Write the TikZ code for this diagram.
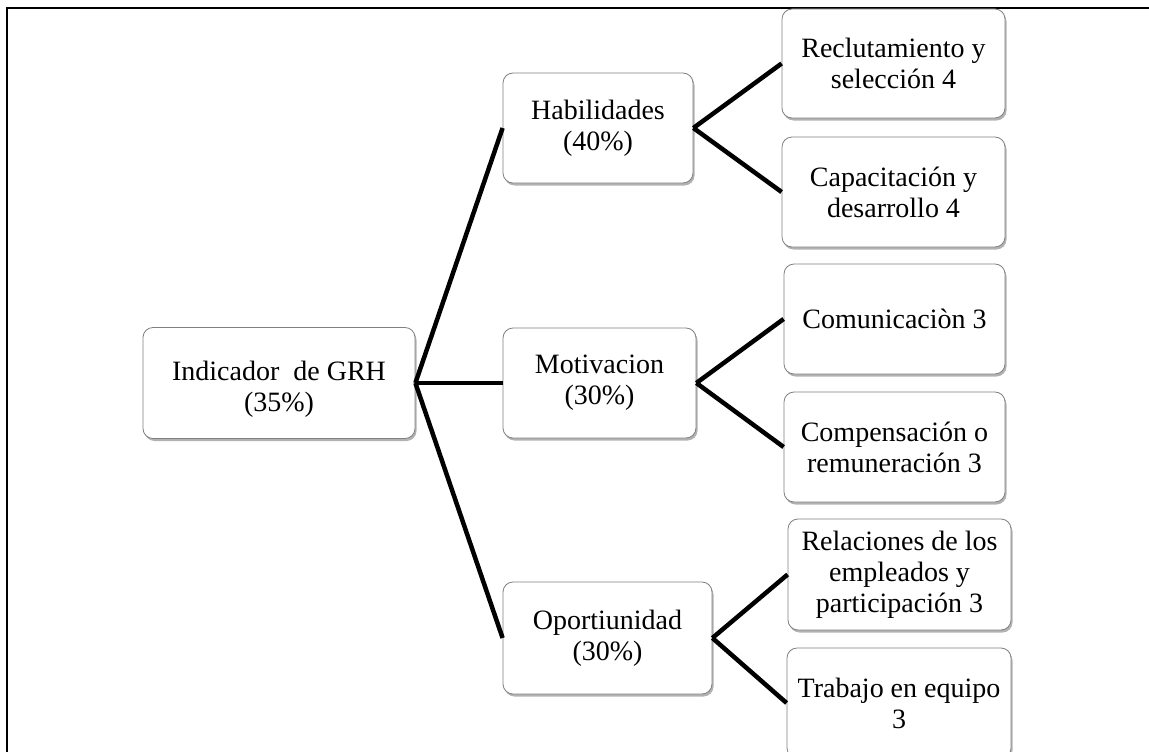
\documentclass[tikz,border=0pt]{standalone}
\usepackage{fontspec}
\setmainfont{Liberation Serif}
\usetikzlibrary{shadows}
\begin{document}
\begin{tikzpicture}[x=1pt,y=-1pt,
  box/.style={draw=black!50, line width=0.8pt, fill=white, rounded corners=10pt,
    align=center, inner sep=2pt,
    font=\fontsize{28}{31}\selectfont,
    drop shadow={shadow xshift=1.5pt, shadow yshift=-2.5pt, fill=black, opacity=0.3}},
  link/.style={line width=4.5pt, black}]
  \useasboundingbox (0,0) rectangle (1149,752);
  \clip (0,0) rectangle (1149,752);
  \fill[white] (0,0) rectangle (1149,752);

  % outer frame (top and left edges)
  \draw[line width=2pt] (7,752) -- (7,8) -- (1149,8);

  % root
  \node[box, minimum width=272pt, minimum height=111pt] (root) at (279,383)
    {\rule{0pt}{32pt}Indicador\ \ de GRH\\(35\%)};

  % second level
  \node[box, minimum width=190pt, minimum height=110pt] (hab) at (598,128)
    {Habilidades\\(40\%)};
  \node[box, minimum width=193pt, minimum height=110pt] (mot) at (599.5,383)
    {Motivacion\\(30\%)};
  \node[box, minimum width=209pt, minimum height=112pt] (opo) at (607.5,638)
    {Oportiunidad\\(30\%)};

  % third level
  \node[box, minimum width=223pt, minimum height=109pt] (rec) at (893.5,63.5)
    {Reclutamiento y\\selección 4};
  \node[box, minimum width=223pt, minimum height=110pt] (cap) at (893.5,192)
    {Capacitación y\\desarrollo 4};
  \node[box, minimum width=221pt, minimum height=110pt] (com) at (894.5,319)
    {Comunicaciòn 3};
  \node[box, minimum width=221pt, minimum height=110pt] (comp) at (894.5,447)
    {Compensación o\\remuneración 3};
  \node[box, minimum width=223pt, minimum height=111pt] (rel) at (899.5,574.5)
    {Relaciones de los\\empleados y\\participación 3};
  \node[box, minimum width=224pt, minimum height=110pt] (tra) at (899,703)
    {Trabajo en equipo\\3};

  % connectors
  \draw[link] (root.east) -- (hab.west);
  \draw[link] (root.east) -- (mot.west);
  \draw[link] (root.east) -- (opo.west);
  \draw[link] (hab.east) -- (rec.west);
  \draw[link] (hab.east) -- (cap.west);
  \draw[link] (mot.east) -- (com.west);
  \draw[link] (mot.east) -- (comp.west);
  \draw[link] (opo.east) -- (rel.west);
  \draw[link] (opo.east) -- (tra.west);
\end{tikzpicture}
\end{document}
